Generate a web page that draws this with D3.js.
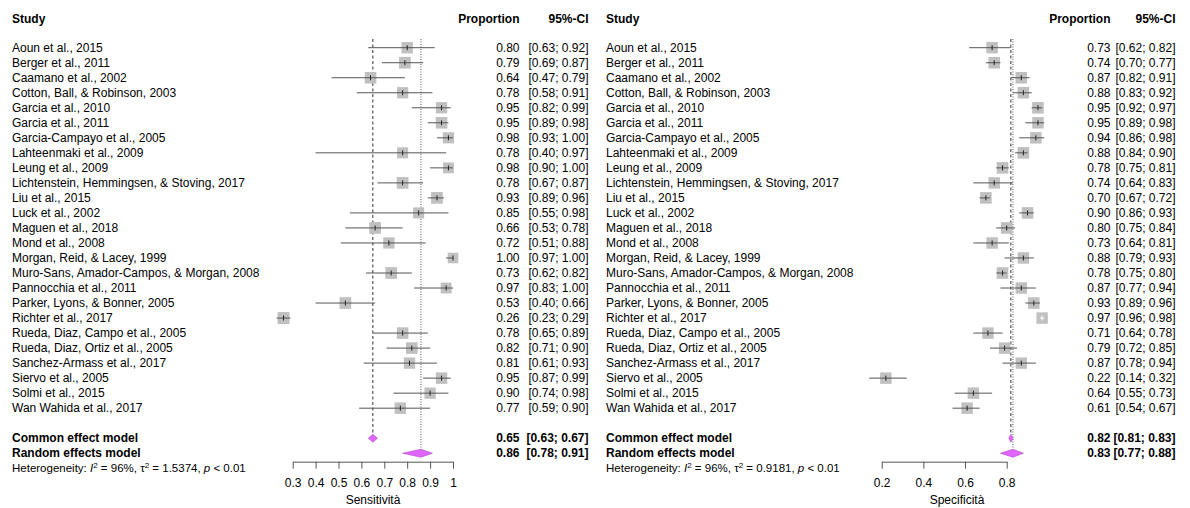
<!DOCTYPE html>
<html>
<head>
<meta charset="utf-8">
<script src="https://cdn.jsdelivr.net/npm/d3@7"></script>
<style>
  html, body { margin: 0; padding: 0; background: #fff; }
  svg { display: block; }
  text { font-family: "Liberation Sans", Arial, sans-serif; fill: #000; }
</style>
</head>
<body>
<svg id="chart" width="1190" height="508"></svg>
<script>
// Studies included in both meta-analyses
const studies = [
  "Aoun et al., 2015",
  "Berger et al., 2011",
  "Caamano et al., 2002",
  "Cotton, Ball, & Robinson, 2003",
  "Garcia et al., 2010",
  "Garcia et al., 2011",
  "Garcia-Campayo et al., 2005",
  "Lahteenmaki et al., 2009",
  "Leung et al., 2009",
  "Lichtenstein, Hemmingsen, & Stoving, 2017",
  "Liu et al., 2015",
  "Luck et al., 2002",
  "Maguen et al., 2018",
  "Mond et al., 2008",
  "Morgan, Reid, & Lacey, 1999",
  "Muro-Sans, Amador-Campos, & Morgan, 2008",
  "Pannocchia et al., 2011",
  "Parker, Lyons, & Bonner, 2005",
  "Richter et al., 2017",
  "Rueda, Diaz, Campo et al., 2005",
  "Rueda, Diaz, Ortiz et al., 2005",
  "Sanchez-Armass et al., 2017",
  "Siervo et al., 2005",
  "Solmi et al., 2015",
  "Wan Wahida et al., 2017"
];

// Sensitivity: proportion, lower and upper 95% CI, study weight (%)
const sensEst   = [0.80, 0.79, 0.64, 0.78, 0.95, 0.95, 0.98, 0.78, 0.98, 0.78, 0.93, 0.85, 0.66, 0.72, 1.00, 0.73, 0.97, 0.53, 0.26, 0.78, 0.82, 0.81, 0.95, 0.90, 0.77];
const sensLower = [0.63, 0.69, 0.47, 0.58, 0.82, 0.89, 0.93, 0.40, 0.90, 0.67, 0.89, 0.55, 0.53, 0.51, 0.97, 0.62, 0.83, 0.40, 0.23, 0.65, 0.71, 0.61, 0.87, 0.74, 0.59];
const sensUpper = [0.92, 0.87, 0.79, 0.91, 0.99, 0.98, 1.00, 0.97, 1.00, 0.87, 0.96, 0.98, 0.78, 0.88, 1.00, 0.82, 1.00, 0.66, 0.29, 0.89, 0.90, 0.93, 0.99, 0.98, 0.90];
const sensWeight = [4.0, 4.2, 4.1, 3.9, 3.9, 4.1, 3.8, 3.7, 3.6, 4.2, 4.2, 3.7, 4.2, 3.9, 3.4, 4.2, 3.6, 4.2, 4.4, 4.1, 4.1, 3.9, 4.0, 3.9, 4.0];
const sensCommon = [0.65, 0.63, 0.67];
const sensRandom = [0.86, 0.78, 0.91];
const sensTau2 = "1.5374";

// Specificity: proportion, lower and upper 95% CI, study weight (%)
const specEst   = [0.73, 0.74, 0.87, 0.88, 0.95, 0.95, 0.94, 0.88, 0.78, 0.74, 0.70, 0.90, 0.80, 0.73, 0.88, 0.78, 0.87, 0.93, 0.97, 0.71, 0.79, 0.87, 0.22, 0.64, 0.61];
const specLower = [0.62, 0.70, 0.82, 0.83, 0.92, 0.89, 0.86, 0.84, 0.75, 0.64, 0.67, 0.86, 0.75, 0.64, 0.79, 0.75, 0.77, 0.89, 0.96, 0.64, 0.72, 0.78, 0.14, 0.55, 0.54];
const specUpper = [0.82, 0.77, 0.91, 0.92, 0.97, 0.98, 0.98, 0.90, 0.81, 0.83, 0.72, 0.93, 0.84, 0.81, 0.93, 0.80, 0.94, 0.96, 0.98, 0.78, 0.85, 0.94, 0.32, 0.73, 0.67];
const specWeight = [4.0, 4.1, 4.1, 4.1, 4.1, 4.0, 4.0, 4.1, 4.1, 4.0, 4.1, 4.1, 4.1, 4.0, 4.0, 4.1, 4.0, 4.1, 4.0, 4.0, 4.0, 4.0, 4.0, 4.0, 4.0];
const specCommon = [0.82, 0.81, 0.83];
const specRandom = [0.83, 0.77, 0.88];
const specTau2 = "0.9181";

const sensTicks = [0.3, 0.4, 0.5, 0.6, 0.7, 0.8, 0.9, 1];
const specTicks = [0.2, 0.4, 0.6, 0.8];
const sensTickLabels = ["0.3", "0.4", "0.5", "0.6", "0.7", "0.8", "0.9", "1"];
const specTickLabels = ["0.2", "0.4", "0.6", "0.8"];

const headers = ["Study", "Proportion", "95%-CI"];
const summaryLabels = ["Common effect model", "Random effects model"];
const i2 = "96%";
const pText = "0.01";

const svg = d3.select("#chart");
svg.append("rect").attr("width", 1190).attr("height", 508).attr("fill", "#fff");

const fmt = d3.format(".2f");
const rowStep = 15.02;
const firstRow = 47.7;
const rowY = i => firstRow + i * rowStep;
const axisY = 461.7;

function drawPanel(cfg) {
  const g = svg.append("g");
  const x = d3.scaleLinear().domain(cfg.domain).range(cfg.range);
  const n = cfg.studies.length;
  const commonY = rowY(n + 1);
  const randomY = rowY(n + 2);
  const hetY = rowY(n + 3);
  const sizeScale = d3.scaleSqrt().domain([0, 4.4]).range([0, 12]);
  // an interval narrower than this share of its square is drawn in white
  const inside = d => (x(d.hi) - x(d.lo)) < sizeScale(d.w) * 0.45;

  // Column headers
  g.append("text").attr("x", cfg.labelX).attr("y", 23.2)
    .attr("font-size", 12).attr("font-weight", "bold").text(headers[0]);
  g.append("text").attr("x", cfg.propX).attr("y", 23.2).attr("text-anchor", "end")
    .attr("font-size", 12).attr("font-weight", "bold").text(headers[1]);
  g.append("text").attr("x", cfg.ciX).attr("y", 23.2).attr("text-anchor", "end")
    .attr("font-size", 12).attr("font-weight", "bold").text(headers[2]);

  // Reference lines for common (dashed) and random (dotted) effect estimates
  g.append("line")
    .attr("x1", x(cfg.common[0])).attr("x2", x(cfg.common[0]))
    .attr("y1", 39).attr("y2", commonY - 4)
    .attr("stroke", "#333").attr("stroke-width", 1).attr("stroke-dasharray", "3,2.5");
  g.append("line")
    .attr("x1", x(cfg.random[0])).attr("x2", x(cfg.random[0]))
    .attr("y1", 39).attr("y2", randomY - 4)
    .attr("stroke", "#555").attr("stroke-width", 1).attr("stroke-dasharray", "1,1.5");

  const rows = cfg.studies.map((s, i) => ({
    name: s, est: cfg.est[i], lo: cfg.lower[i], hi: cfg.upper[i], w: cfg.weight[i], y: rowY(i)
  }));

  const row = g.selectAll("g.study").data(rows).join("g").attr("class", "study");

  row.append("text").attr("x", cfg.labelX).attr("y", d => d.y + 4.2)
    .attr("font-size", 12).text(d => d.name);
  row.append("text").attr("x", cfg.propX).attr("y", d => d.y + 4.2).attr("text-anchor", "end")
    .attr("font-size", 12).text(d => fmt(d.est));
  row.append("text").attr("x", cfg.ciX).attr("y", d => d.y + 4.2).attr("text-anchor", "end")
    .attr("font-size", 12).text(d => "[" + fmt(d.lo) + "; " + fmt(d.hi) + "]");

  // Weighted squares
  row.append("rect")
    .attr("x", d => x(d.est) - sizeScale(d.w) / 2)
    .attr("y", d => d.y - sizeScale(d.w) / 2)
    .attr("width", d => sizeScale(d.w))
    .attr("height", d => sizeScale(d.w))
    .attr("fill", "#c0c0c0");

  // Confidence intervals and point estimate ticks
  row.append("line")
    .attr("x1", d => x(d.lo)).attr("x2", d => x(d.hi))
    .attr("y1", d => d.y).attr("y2", d => d.y)
    .attr("stroke", d => inside(d) ? "#fff" : "#555")
    .attr("stroke-width", 1);
  row.append("line")
    .attr("x1", d => x(d.est)).attr("x2", d => x(d.est))
    .attr("y1", d => d.y - 2.5).attr("y2", d => d.y + 2.5)
    .attr("stroke", d => inside(d) ? "#fff" : "#222")
    .attr("stroke-width", 1);

  // Summary diamonds
  const diamond = (v, y, h) => {
    const pts = [[x(v[1]), y], [x(v[0]), y - h], [x(v[2]), y], [x(v[0]), y + h]];
    g.append("path").attr("d", "M" + pts.join("L") + "Z")
      .attr("fill", "#e066ff").attr("stroke", "#b044c8").attr("stroke-width", 0.6);
  };
  diamond(cfg.common, commonY, 4);
  diamond(cfg.random, randomY, 4);

  [cfg.common, cfg.random].forEach((v, k) => {
    const y = (k === 0 ? commonY : randomY) + 4.2;
    g.append("text").attr("x", cfg.labelX).attr("y", y)
      .attr("font-size", 12).attr("font-weight", "bold").text(summaryLabels[k]);
    g.append("text").attr("x", cfg.propX).attr("y", y).attr("text-anchor", "end")
      .attr("font-size", 12).attr("font-weight", "bold").text(fmt(v[0]));
    g.append("text").attr("x", cfg.ciX).attr("y", y).attr("text-anchor", "end")
      .attr("font-size", 12).attr("font-weight", "bold").text("[" + fmt(v[1]) + "; " + fmt(v[2]) + "]");
  });

  // Heterogeneity statement
  const het = g.append("text").attr("x", cfg.labelX).attr("y", hetY + 4).attr("font-size", 11.5);
  het.append("tspan").text("Heterogeneity: ");
  het.append("tspan").attr("font-style", "italic").text("I");
  het.append("tspan").attr("dy", -4.5).attr("font-size", 8).text("2");
  het.append("tspan").attr("dy", 4.5).text(" = " + i2 + ", \u03c4");
  het.append("tspan").attr("dy", -4.5).attr("font-size", 8).text("2");
  het.append("tspan").attr("dy", 4.5).text(" = " + cfg.tau2 + ", ");
  het.append("tspan").attr("font-style", "italic").text("p");
  het.append("tspan").text(" < " + pText);

  // Bottom axis
  const axis = d3.axisBottom(x)
    .tickValues(cfg.ticks)
    .tickFormat((d, i) => cfg.tickLabels[i])
    .tickSizeInner(7).tickSizeOuter(0).tickPadding(10);
  const ax = g.append("g").attr("transform", `translate(0,${axisY})`).call(axis);
  ax.select(".domain").attr("stroke", "#555").attr("stroke-width", 1);
  ax.selectAll(".tick line").attr("stroke", "#555");
  ax.selectAll(".tick text").attr("font-size", 12)
    .attr("font-family", "'Liberation Sans', Arial, sans-serif").attr("fill", "#000");

  g.append("text").attr("x", cfg.axisLabelX).attr("y", 504).attr("text-anchor", "middle")
    .attr("font-size", 12).text(cfg.axisLabel);
}

drawPanel({
  studies, est: sensEst, lower: sensLower, upper: sensUpper, weight: sensWeight,
  common: sensCommon, random: sensRandom, tau2: sensTau2,
  domain: [0.3, 1], range: [292.7, 453], ticks: sensTicks, tickLabels: sensTickLabels,
  labelX: 12, propX: 519.5, ciX: 588.5, axisLabel: "Sensitività", axisLabelX: 373
});

drawPanel({
  studies, est: specEst, lower: specLower, upper: specUpper, weight: specWeight,
  common: specCommon, random: specRandom, tau2: specTau2,
  domain: [0.2, 0.8], range: [881.7, 1006.7], ticks: specTicks, tickLabels: specTickLabels,
  labelX: 606, propX: 1110.5, ciX: 1175.5, axisLabel: "Specificità", axisLabelX: 957
});
</script>
</body>
</html>
